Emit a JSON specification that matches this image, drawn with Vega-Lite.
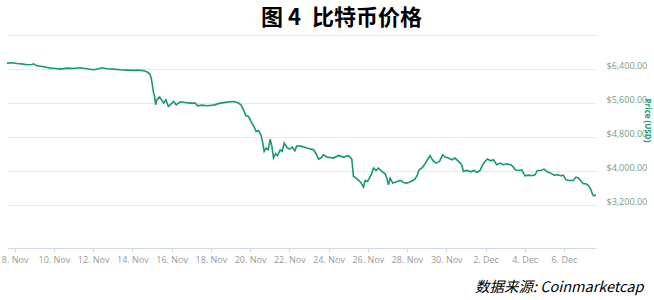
{
  "$schema": "https://vega.github.io/schema/vega-lite/v6.json",
  "width": 589,
  "height": 213,
  "autosize": "none",
  "padding": {"left": 7, "top": 35, "right": 58, "bottom": 52},
  "background": "white",
  "config": {"view": {"stroke": null}},
  "title": {
    "text": "图 4\u2002比特币价格",
    "anchor": "middle",
    "frame": "group",
    "dx": 40,
    "offset": 5,
    "font": "Noto Sans CJK SC",
    "fontSize": 22,
    "fontWeight": "bold",
    "color": "#000000"
  },
  "data": {
    "values": [
      {"t": "2018-11-07T14:40", "price": 6540},
      {"t": "2018-11-07T20:50", "price": 6550},
      {"t": "2018-11-08T02:55", "price": 6530},
      {"t": "2018-11-08T09:00", "price": 6523},
      {"t": "2018-11-08T15:07", "price": 6500},
      {"t": "2018-11-08T21:14", "price": 6507},
      {"t": "2018-11-08T23:15", "price": 6523},
      {"t": "2018-11-09T03:20", "price": 6476},
      {"t": "2018-11-09T11:30", "price": 6453},
      {"t": "2018-11-09T19:40", "price": 6423},
      {"t": "2018-11-10T01:45", "price": 6415},
      {"t": "2018-11-10T07:52", "price": 6400},
      {"t": "2018-11-10T16:02", "price": 6423},
      {"t": "2018-11-11T00:10", "price": 6415},
      {"t": "2018-11-11T08:20", "price": 6430},
      {"t": "2018-11-11T16:29", "price": 6408},
      {"t": "2018-11-12T00:37", "price": 6384},
      {"t": "2018-11-12T06:45", "price": 6408},
      {"t": "2018-11-12T10:49", "price": 6430},
      {"t": "2018-11-12T16:56", "price": 6408},
      {"t": "2018-11-13T01:05", "price": 6400},
      {"t": "2018-11-13T09:14", "price": 6384},
      {"t": "2018-11-13T17:23", "price": 6376},
      {"t": "2018-11-14T01:32", "price": 6369},
      {"t": "2018-11-14T07:39", "price": 6376},
      {"t": "2018-11-14T13:45", "price": 6361},
      {"t": "2018-11-14T17:50", "price": 6337},
      {"t": "2018-11-14T21:06", "price": 6290},
      {"t": "2018-11-14T23:08", "price": 6190},
      {"t": "2018-11-15T00:46", "price": 5993},
      {"t": "2018-11-15T02:00", "price": 5836},
      {"t": "2018-11-15T03:13", "price": 5758},
      {"t": "2018-11-15T04:26", "price": 5562},
      {"t": "2018-11-15T06:04", "price": 5680},
      {"t": "2018-11-15T09:20", "price": 5742},
      {"t": "2018-11-15T12:10", "price": 5664},
      {"t": "2018-11-15T14:13", "price": 5601},
      {"t": "2018-11-15T17:04", "price": 5680},
      {"t": "2018-11-15T19:55", "price": 5523},
      {"t": "2018-11-15T23:11", "price": 5578},
      {"t": "2018-11-16T02:25", "price": 5640},
      {"t": "2018-11-16T05:41", "price": 5562},
      {"t": "2018-11-16T10:35", "price": 5633},
      {"t": "2018-11-16T16:42", "price": 5617},
      {"t": "2018-11-16T22:48", "price": 5601},
      {"t": "2018-11-17T04:55", "price": 5601},
      {"t": "2018-11-17T07:46", "price": 5538},
      {"t": "2018-11-17T13:05", "price": 5554},
      {"t": "2018-11-17T19:12", "price": 5538},
      {"t": "2018-11-18T03:20", "price": 5554},
      {"t": "2018-11-18T11:30", "price": 5601},
      {"t": "2018-11-18T19:38", "price": 5625},
      {"t": "2018-11-19T03:48", "price": 5640},
      {"t": "2018-11-19T08:41", "price": 5617},
      {"t": "2018-11-19T12:46", "price": 5562},
      {"t": "2018-11-19T16:00", "price": 5445},
      {"t": "2018-11-19T18:52", "price": 5304},
      {"t": "2018-11-19T22:08", "price": 5288},
      {"t": "2018-11-20T00:59", "price": 5171},
      {"t": "2018-11-20T04:15", "price": 5069},
      {"t": "2018-11-20T07:30", "price": 4936},
      {"t": "2018-11-20T10:22", "price": 4960},
      {"t": "2018-11-20T13:12", "price": 4858},
      {"t": "2018-11-20T15:14", "price": 4702},
      {"t": "2018-11-20T17:17", "price": 4467},
      {"t": "2018-11-20T19:44", "price": 4545},
      {"t": "2018-11-20T22:10", "price": 4506},
      {"t": "2018-11-21T00:37", "price": 4757},
      {"t": "2018-11-21T02:40", "price": 4585},
      {"t": "2018-11-21T04:42", "price": 4311},
      {"t": "2018-11-21T07:09", "price": 4413},
      {"t": "2018-11-21T09:36", "price": 4366},
      {"t": "2018-11-21T12:50", "price": 4506},
      {"t": "2018-11-21T15:17", "price": 4467},
      {"t": "2018-11-21T17:44", "price": 4663},
      {"t": "2018-11-21T21:00", "price": 4561},
      {"t": "2018-11-22T00:16", "price": 4522},
      {"t": "2018-11-22T03:32", "price": 4569},
      {"t": "2018-11-22T06:47", "price": 4483},
      {"t": "2018-11-22T09:13", "price": 4600},
      {"t": "2018-11-22T15:20", "price": 4585},
      {"t": "2018-11-22T21:27", "price": 4545},
      {"t": "2018-11-23T05:35", "price": 4506},
      {"t": "2018-11-23T08:51", "price": 4413},
      {"t": "2018-11-23T11:43", "price": 4287},
      {"t": "2018-11-23T14:34", "price": 4311},
      {"t": "2018-11-23T17:50", "price": 4388},
      {"t": "2018-11-23T21:55", "price": 4334},
      {"t": "2018-11-24T06:03", "price": 4311},
      {"t": "2018-11-24T12:10", "price": 4373},
      {"t": "2018-11-24T18:16", "price": 4334},
      {"t": "2018-11-25T00:23", "price": 4366},
      {"t": "2018-11-25T04:28", "price": 4287},
      {"t": "2018-11-25T06:30", "price": 3879},
      {"t": "2018-11-25T09:46", "price": 3840},
      {"t": "2018-11-25T12:37", "price": 3786},
      {"t": "2018-11-25T15:29", "price": 3739},
      {"t": "2018-11-25T18:45", "price": 3629},
      {"t": "2018-11-25T20:47", "price": 3786},
      {"t": "2018-11-25T23:38", "price": 3762},
      {"t": "2018-11-26T02:04", "price": 3840},
      {"t": "2018-11-26T04:55", "price": 3958},
      {"t": "2018-11-26T06:58", "price": 4076},
      {"t": "2018-11-26T10:13", "price": 4021},
      {"t": "2018-11-26T13:05", "price": 4076},
      {"t": "2018-11-26T17:10", "price": 3997},
      {"t": "2018-11-26T21:13", "price": 3942},
      {"t": "2018-11-26T23:15", "price": 3840},
      {"t": "2018-11-27T01:18", "price": 3684},
      {"t": "2018-11-27T03:20", "price": 3840},
      {"t": "2018-11-27T06:36", "price": 3723},
      {"t": "2018-11-27T11:30", "price": 3754},
      {"t": "2018-11-27T15:35", "price": 3786},
      {"t": "2018-11-27T19:38", "price": 3739},
      {"t": "2018-11-27T23:43", "price": 3723},
      {"t": "2018-11-28T04:36", "price": 3762},
      {"t": "2018-11-28T08:40", "price": 3801},
      {"t": "2018-11-28T11:56", "price": 3879},
      {"t": "2018-11-28T14:47", "price": 4036},
      {"t": "2018-11-28T18:03", "price": 4076},
      {"t": "2018-11-28T22:08", "price": 4178},
      {"t": "2018-11-29T00:58", "price": 4272},
      {"t": "2018-11-29T04:13", "price": 4366},
      {"t": "2018-11-29T07:29", "price": 4256},
      {"t": "2018-11-29T11:34", "price": 4193},
      {"t": "2018-11-29T15:39", "price": 4232},
      {"t": "2018-11-29T19:42", "price": 4388},
      {"t": "2018-11-29T22:34", "price": 4334},
      {"t": "2018-11-30T02:38", "price": 4311},
      {"t": "2018-11-30T06:43", "price": 4272},
      {"t": "2018-11-30T10:48", "price": 4311},
      {"t": "2018-11-30T14:53", "price": 4232},
      {"t": "2018-11-30T18:56", "price": 4154},
      {"t": "2018-11-30T20:58", "price": 3997},
      {"t": "2018-12-01T01:03", "price": 4021},
      {"t": "2018-12-01T05:57", "price": 3989},
      {"t": "2018-12-01T10:02", "price": 4021},
      {"t": "2018-12-01T13:18", "price": 3974},
      {"t": "2018-12-01T17:22", "price": 4021},
      {"t": "2018-12-01T20:38", "price": 4154},
      {"t": "2018-12-01T23:28", "price": 4232},
      {"t": "2018-12-02T02:20", "price": 4287},
      {"t": "2018-12-02T06:24", "price": 4248},
      {"t": "2018-12-02T09:40", "price": 4272},
      {"t": "2018-12-02T13:45", "price": 4154},
      {"t": "2018-12-02T17:48", "price": 4193},
      {"t": "2018-12-02T21:53", "price": 4154},
      {"t": "2018-12-03T01:58", "price": 4178},
      {"t": "2018-12-03T06:52", "price": 4154},
      {"t": "2018-12-03T10:08", "price": 4099},
      {"t": "2018-12-03T12:10", "price": 4036},
      {"t": "2018-12-03T16:13", "price": 4021},
      {"t": "2018-12-03T20:18", "price": 4036},
      {"t": "2018-12-04T00:23", "price": 3895},
      {"t": "2018-12-04T04:26", "price": 3911},
      {"t": "2018-12-04T08:31", "price": 3895},
      {"t": "2018-12-04T12:36", "price": 3919},
      {"t": "2018-12-04T15:27", "price": 4021},
      {"t": "2018-12-04T19:32", "price": 4021},
      {"t": "2018-12-04T23:35", "price": 4052},
      {"t": "2018-12-05T03:40", "price": 3989},
      {"t": "2018-12-05T07:45", "price": 3958},
      {"t": "2018-12-05T11:50", "price": 3911},
      {"t": "2018-12-05T15:55", "price": 3919},
      {"t": "2018-12-05T19:58", "price": 3895},
      {"t": "2018-12-05T23:14", "price": 3911},
      {"t": "2018-12-06T02:30", "price": 3801},
      {"t": "2018-12-06T06:35", "price": 3786},
      {"t": "2018-12-06T11:27", "price": 3786},
      {"t": "2018-12-06T14:43", "price": 3864},
      {"t": "2018-12-06T17:59", "price": 3840},
      {"t": "2018-12-06T21:14", "price": 3762},
      {"t": "2018-12-06T23:41", "price": 3708},
      {"t": "2018-12-07T02:57", "price": 3708},
      {"t": "2018-12-07T06:12", "price": 3661},
      {"t": "2018-12-07T08:38", "price": 3583},
      {"t": "2018-12-07T11:05", "price": 3450},
      {"t": "2018-12-07T12:43", "price": 3426},
      {"t": "2018-12-07T15:10", "price": 3442}
    ]
  },
  "mark": {"type": "line", "color": "#17986f", "strokeWidth": 1.6, "interpolate": "linear"},
  "encoding": {
    "x": {
      "field": "t",
      "type": "temporal",
      "scale": {"nice": false},
      "axis": {
        "values": [
          {"year": 2018, "month": 11, "date": 8},
          {"year": 2018, "month": 11, "date": 10},
          {"year": 2018, "month": 11, "date": 12},
          {"year": 2018, "month": 11, "date": 14},
          {"year": 2018, "month": 11, "date": 16},
          {"year": 2018, "month": 11, "date": 18},
          {"year": 2018, "month": 11, "date": 20},
          {"year": 2018, "month": 11, "date": 22},
          {"year": 2018, "month": 11, "date": 24},
          {"year": 2018, "month": 11, "date": 26},
          {"year": 2018, "month": 11, "date": 28},
          {"year": 2018, "month": 11, "date": 30},
          {"year": 2018, "month": 12, "date": 2},
          {"year": 2018, "month": 12, "date": 4},
          {"year": 2018, "month": 12, "date": 6}
        ],
        "format": "%-d. %b",
        "grid": false,
        "domainColor": "#ccd6eb",
        "tickColor": "#ccd6eb",
        "tickSize": 4,
        "labelFont": "Open Sans",
        "labelFontSize": 9,
        "labelColor": "#999999",
        "labelPadding": 3,
        "labelFlush": false,
        "labelOverlap": false,
        "title": "数据来源: Coinmarketcap",
        "titleFont": "Noto Sans CJK SC",
        "titleFontSize": 14.5,
        "titleFontStyle": "italic",
        "titleFontWeight": "normal",
        "titleColor": "#000000",
        "titleAlign": "right",
        "titleBaseline": "middle",
        "titleX": 636,
        "titleY": 39
      }
    },
    "y": {
      "field": "price",
      "type": "quantitative",
      "scale": {"domain": [2200, 7200], "nice": false, "zero": false},
      "axis": {
        "orient": "right",
        "values": [3200, 4000, 4800, 5600, 6400, 7200],
        "labelExpr": "datum.value == 7200 ? '' : format(datum.value, '$,.2f')",
        "grid": true,
        "gridColor": "#e9e9e9",
        "domain": false,
        "ticks": false,
        "labelFont": "Open Sans",
        "labelFontSize": 9,
        "labelColor": "#6f9e8b",
        "labelPadding": 10,
        "labelOffset": -4,
        "title": "Price (USD)",
        "titleFont": "Open Sans",
        "titleFontSize": 8,
        "titleFontWeight": "bold",
        "titleColor": "#17986f",
        "titleAngle": 90,
        "titleX": 50,
        "titleY": 85,
        "titleBaseline": "middle"
      }
    }
  }
}
